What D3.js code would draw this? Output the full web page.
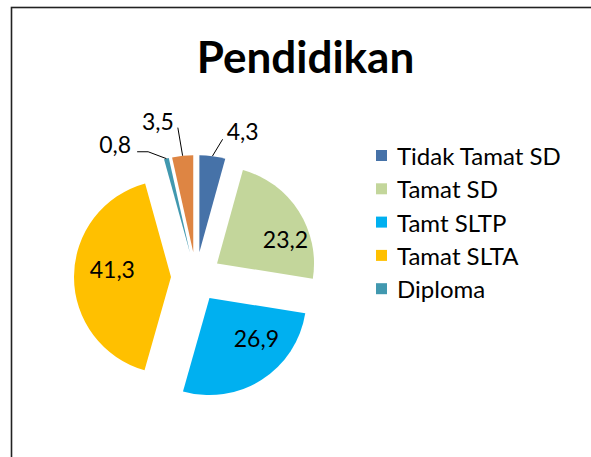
<!DOCTYPE html>
<html>
<head>
<meta charset="utf-8">
<script src="https://cdn.jsdelivr.net/npm/d3@7"></script>
<style>
  html, body { margin: 0; padding: 0; background: #fff; }
  svg { display: block; }
</style>
</head>
<body>
<svg id="chart" width="591" height="457"></svg>
<script>
// ---- data ----
const title = "Pendidikan";
const categories = ["Tidak Tamat SD", "Tamat SD", "Tamt SLTP", "Tamat SLTA", "Diploma", "Sarjana"];
const values = [4.3, 23.2, 26.9, 41.3, 0.8, 3.5];
const valueLabels = ["4,3", "23,2", "26,9", "41,3", "0,8", "3,5"];
const legendCount = 5; // legend in the reference shows the first five entries only
const colors = ["#4672A8", "#C3D69B", "#00B0F0", "#FFC000", "#4198AF", "#DE8543"];

// ---- layout ----
const W = 591, H = 457;
const cx = 196, cy = 277, R = 97, explode = 25;
const font = "Lato, 'Open Sans', sans-serif";
// label placement: [angle offset in degrees from the slice bisector, distance from centre, inside?]
const labelLayout = [
  {da: 10, r: 153, inside: false},
  {da: 10, r: 97, inside: true},
  {da: -12, r: 86, inside: true},
  {da: 5, r: 84, inside: true},
  {da: -17.4, r: 155, inside: false},
  {da: -7.5, r: 160, inside: false}
];

const svg = d3.select("#chart");

// frame
svg.append("rect")
  .attr("x", 11.5).attr("y", 7.5)
  .attr("width", W + 20).attr("height", H + 20)
  .attr("fill", "#fff").attr("stroke", "#222").attr("stroke-width", 1.6);

// title
svg.append("text")
  .attr("x", 305.5).attr("y", 73)
  .attr("text-anchor", "middle")
  .attr("font-family", font).attr("font-weight", "bold").attr("font-size", 44)
  .attr("fill", "#000")
  .text(title);

const pie = d3.pie().sort(null).value(d => d)(values);
const arc = d3.arc().innerRadius(0).outerRadius(R);
const g = svg.append("g").attr("transform", `translate(${cx},${cy})`);

const mid = d => (d.startAngle + d.endAngle) / 2;
const polar = (a, r) => [Math.sin(a) * r, -Math.cos(a) * r];

g.selectAll("path.slice").data(pie).join("path")
  .attr("class", "slice")
  .attr("transform", d => { const [x, y] = polar(mid(d), explode); return `translate(${x},${y})`; })
  .attr("d", arc)
  .attr("fill", (d, i) => colors[i]);

// labels
pie.forEach((d, i) => {
  const L = labelLayout[i];
  const a = mid(d) + L.da * Math.PI / 180;
  const [lx, ly] = polar(a, L.r);
  if (!L.inside) {
    const [sx, sy] = polar(mid(d), explode + R);
    let pts;
    if (lx > 0) {
      pts = [[sx, sy], [lx - 20, ly + 8]];
    } else if (i === 4) {
      pts = [[sx, sy], [lx + 33, ly + 7], [lx + 22, ly + 7]];
    } else {
      pts = [[sx, sy], [lx + 20, ly + 6]];
    }
    g.append("path")
      .attr("d", d3.line()(pts))
      .attr("fill", "none").attr("stroke", "#000").attr("stroke-width", 1);
  }
  g.append("text")
    .attr("x", lx).attr("y", ly)
    .attr("dy", "0.36em")
    .attr("text-anchor", "middle")
    .attr("font-family", font).attr("font-size", 23)
    .attr("fill", "#000")
    .text(valueLabels[i]);
});

// legend
const legend = svg.append("g").attr("transform", "translate(376,0)");
const leg = legend.selectAll("g").data(categories.slice(0, legendCount)).join("g")
  .attr("transform", (d, i) => `translate(0,${165 + i * 33.3})`);
leg.append("rect")
  .attr("x", 0).attr("y", -15).attr("width", 11).attr("height", 11)
  .attr("fill", (d, i) => colors[i]);
leg.append("text")
  .attr("x", 21).attr("y", 0)
  .attr("font-family", font).attr("font-size", 24)
  .attr("fill", "#000")
  .text(d => d);
</script>
</body>
</html>
